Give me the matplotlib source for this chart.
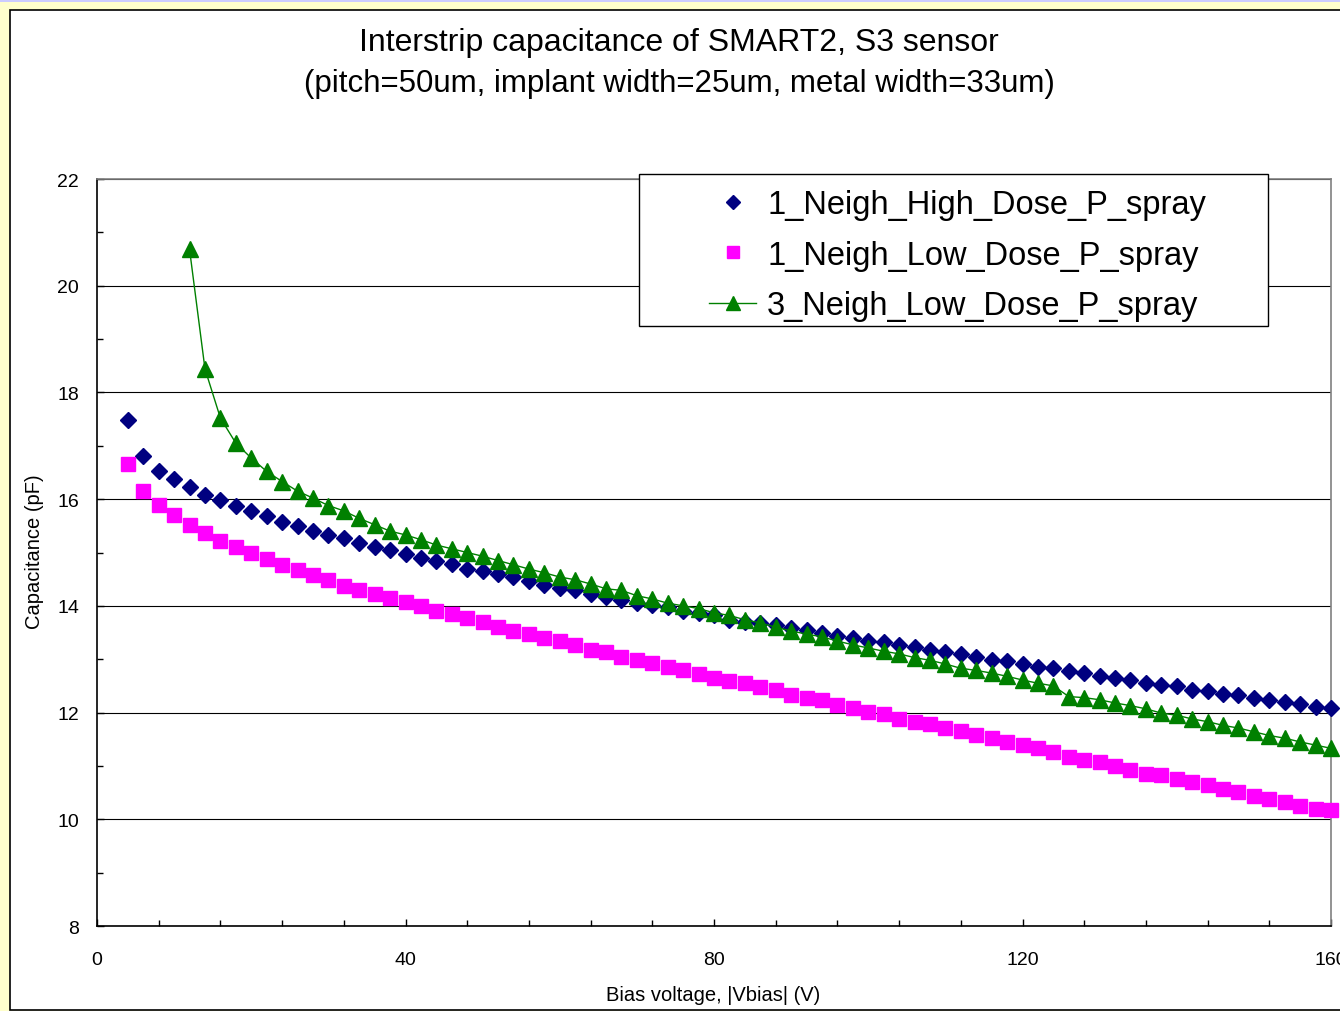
import matplotlib
matplotlib.use("Agg")
import matplotlib.pyplot as plt
from matplotlib.patches import Rectangle
from matplotlib.ticker import MultipleLocator
from matplotlib.lines import Line2D

plt.rcParams['font.family'] = ['Liberation Sans', 'DejaVu Sans']

# ---- data ----
bias_v = [4, 6, 8, 10, 12, 14, 16, 18, 20, 22, 24, 26, 28, 30, 32, 34, 36, 38, 40,
          42, 44, 46, 48, 50, 52, 54, 56, 58, 60, 62, 64, 66, 68, 70, 72, 74, 76, 78, 80,
          82, 84, 86, 88, 90, 92, 94, 96, 98, 100, 102, 104, 106, 108, 110, 112, 114, 116,
          118, 120, 122, 124, 126, 128, 130, 132, 134, 136, 138, 140, 142, 144, 146, 148,
          150, 152, 154, 156, 158, 160]

high_dose_1n = [17.48, 16.81, 16.53, 16.38, 16.22, 16.08, 15.98, 15.87, 15.77, 15.69,
                15.58, 15.50, 15.40, 15.32, 15.27, 15.18, 15.10, 15.05, 14.97, 14.89,
                14.84, 14.78, 14.70, 14.65, 14.60, 14.54, 14.46, 14.40, 14.33, 14.29,
                14.22, 14.16, 14.11, 14.05, 14.02, 13.97, 13.91, 13.87, 13.82, 13.74,
                13.70, 13.67, 13.65, 13.59, 13.54, 13.50, 13.44, 13.40, 13.35, 13.32,
                13.27, 13.22, 13.17, 13.13, 13.10, 13.04, 12.99, 12.96, 12.91, 12.86,
                12.83, 12.77, 12.74, 12.69, 12.64, 12.61, 12.55, 12.52, 12.49, 12.42,
                12.40, 12.35, 12.32, 12.27, 12.24, 12.19, 12.16, 12.11, 12.08]

low_dose_1n = [16.66, 16.15, 15.89, 15.70, 15.52, 15.36, 15.22, 15.10, 14.99, 14.88,
               14.77, 14.67, 14.57, 14.49, 14.38, 14.30, 14.22, 14.14, 14.07, 13.99,
               13.90, 13.85, 13.77, 13.69, 13.61, 13.53, 13.47, 13.40, 13.34, 13.27,
               13.18, 13.13, 13.05, 12.99, 12.92, 12.86, 12.79, 12.73, 12.65, 12.60,
               12.55, 12.47, 12.42, 12.33, 12.28, 12.23, 12.15, 12.09, 12.02, 11.98,
               11.88, 11.83, 11.78, 11.71, 11.65, 11.58, 11.52, 11.44, 11.39, 11.33,
               11.26, 11.17, 11.12, 11.07, 10.99, 10.93, 10.85, 10.83, 10.76, 10.70,
               10.65, 10.57, 10.51, 10.43, 10.38, 10.33, 10.24, 10.19, 10.17]

bias_v_3n = [12, 14, 16, 18, 20, 22, 24, 26, 28, 30, 32, 34, 36, 38, 40, 42, 44, 46, 48,
             50, 52, 54, 56, 58, 60, 62, 64, 66, 68, 70, 72, 74, 76, 78, 80, 82, 84, 86,
             88, 90, 92, 94, 96, 98, 100, 102, 104, 106, 108, 110, 112, 114, 116, 118, 120,
             122, 124, 126, 128, 130, 132, 134, 136, 138, 140, 142, 144, 146, 148, 150,
             152, 154, 156, 158, 160]

low_dose_3n = [20.68, 18.44, 17.52, 17.05, 16.77, 16.52, 16.33, 16.15, 16.02, 15.88,
               15.78, 15.64, 15.52, 15.40, 15.33, 15.24, 15.14, 15.07, 15.00, 14.93,
               14.85, 14.77, 14.69, 14.62, 14.54, 14.49, 14.41, 14.32, 14.29, 14.19,
               14.13, 14.05, 14.00, 13.95, 13.87, 13.82, 13.74, 13.68, 13.60, 13.53,
               13.47, 13.42, 13.34, 13.27, 13.21, 13.15, 13.10, 13.03, 12.98, 12.91,
               12.83, 12.79, 12.74, 12.68, 12.61, 12.55, 12.50, 12.30, 12.28, 12.24,
               12.18, 12.13, 12.07, 11.99, 11.95, 11.88, 11.83, 11.76, 11.71, 11.64,
               11.57, 11.52, 11.45, 11.39, 11.33]

labels = ["1_Neigh_High_Dose_P_spray", "1_Neigh_Low_Dose_P_spray", "3_Neigh_Low_Dose_P_spray"]
title1 = "Interstrip capacitance of SMART2, S3 sensor"
title2 = "(pitch=50um, implant width=25um, metal width=33um)"
xlabel = "Bias voltage, |Vbias| (V)"
ylabel = "Capacitance (pF)"

W, H = 1340, 1012
fig = plt.figure(figsize=(W / 100, H / 100), dpi=100, facecolor='#FFFFCC')

def fx(px):
    return px / W

def fy(py):
    return 1 - py / H

# top lavender strip
fig.patches.append(Rectangle((0, fy(2.5)), 1, 2.5 / H, transform=fig.transFigure,
                             facecolor='#CCCCFF', edgecolor='none', zorder=-2))
# inner white chart area
fig.patches.append(Rectangle((fx(10), fy(1011)), (W - 10 + 5) / W, 1000 / H,
                             transform=fig.transFigure, facecolor='white',
                             edgecolor='black', linewidth=1.2, zorder=-2))

ax = fig.add_axes([fx(97), fy(927), (1331 - 97) / W, (927 - 180) / H])
ax.set_zorder(2)
ax.set_facecolor('white')

ax.plot(bias_v, high_dose_1n, linestyle='none', marker='D', markersize=7.9,
        color='#000080', markeredgecolor='#000080', clip_on=False, zorder=3)
ax.plot(bias_v, low_dose_1n, linestyle='none', marker='s', markersize=10.5,
        color='#FF00FF', markeredgecolor='#FF00FF', clip_on=False, zorder=3)
ax.plot(bias_v_3n, low_dose_3n, linestyle='-', linewidth=1.0, marker='^', markersize=11.5,
        color='#008000', markeredgecolor='#008000', clip_on=False, zorder=3)

ax.set_xlim(0, 160)
ax.set_ylim(8, 22)
ax.xaxis.set_major_locator(MultipleLocator(40))
ax.xaxis.set_minor_locator(MultipleLocator(8))
ax.yaxis.set_major_locator(MultipleLocator(2))
ax.yaxis.set_minor_locator(MultipleLocator(1))
ax.grid(axis='y', which='major', color='#000000', linewidth=0.8, zorder=1)
ax.set_axisbelow(True)

ax.tick_params(axis='both', which='both', direction='in', color='black')
ax.tick_params(axis='both', which='major', length=5, width=1)
ax.tick_params(axis='both', which='minor', length=4, width=1)
ax.tick_params(axis='x', which='major', pad=18, labelsize=14)
ax.tick_params(axis='y', which='major', pad=13, labelsize=14)

for s in ['left', 'bottom']:
    ax.spines[s].set_color('black')
    ax.spines[s].set_linewidth(1.2)
for s in ['top', 'right']:
    ax.spines[s].set_color('#808080')
    ax.spines[s].set_linewidth(1.2)

fig.text(fx(679), fy(43), title1, ha='center', va='center', fontsize=23)
fig.text(fx(679), fy(84), title2, ha='center', va='center', fontsize=22.5)
fig.text(fx(713), fy(996), xlabel, ha='center', va='center', fontsize=14.5)
fig.text(fx(35), fy(552), ylabel, ha='center', va='center', rotation=90, fontsize=14.5)

# legend box
box = Rectangle((fx(639), fy(327)), (1268 - 639) / W, (327 - 175) / H,
                transform=fig.transFigure, facecolor='white', edgecolor='black',
                linewidth=1.0, zorder=4, clip_on=False)
ax.add_artist(box)

handles = [Line2D([], [], linestyle='none', marker='D', markersize=7.0, color='#000080'),
           Line2D([], [], linestyle='none', marker='s', markersize=9, color='#FF00FF'),
           Line2D([], [], linestyle='-', linewidth=1.0, marker='^', markersize=9.5,
                  color='#008000')]
leg = ax.legend(handles, labels, loc='upper left', bbox_to_anchor=(fx(709), fy(190)),
                bbox_transform=fig.transFigure, frameon=False, fontsize=23.5,
                borderpad=0, borderaxespad=0, handlelength=1.45, handletextpad=0.33,
                labelspacing=0.6)
leg.set_zorder(5)

fig.savefig('out.png', dpi=100, facecolor=fig.get_facecolor())
